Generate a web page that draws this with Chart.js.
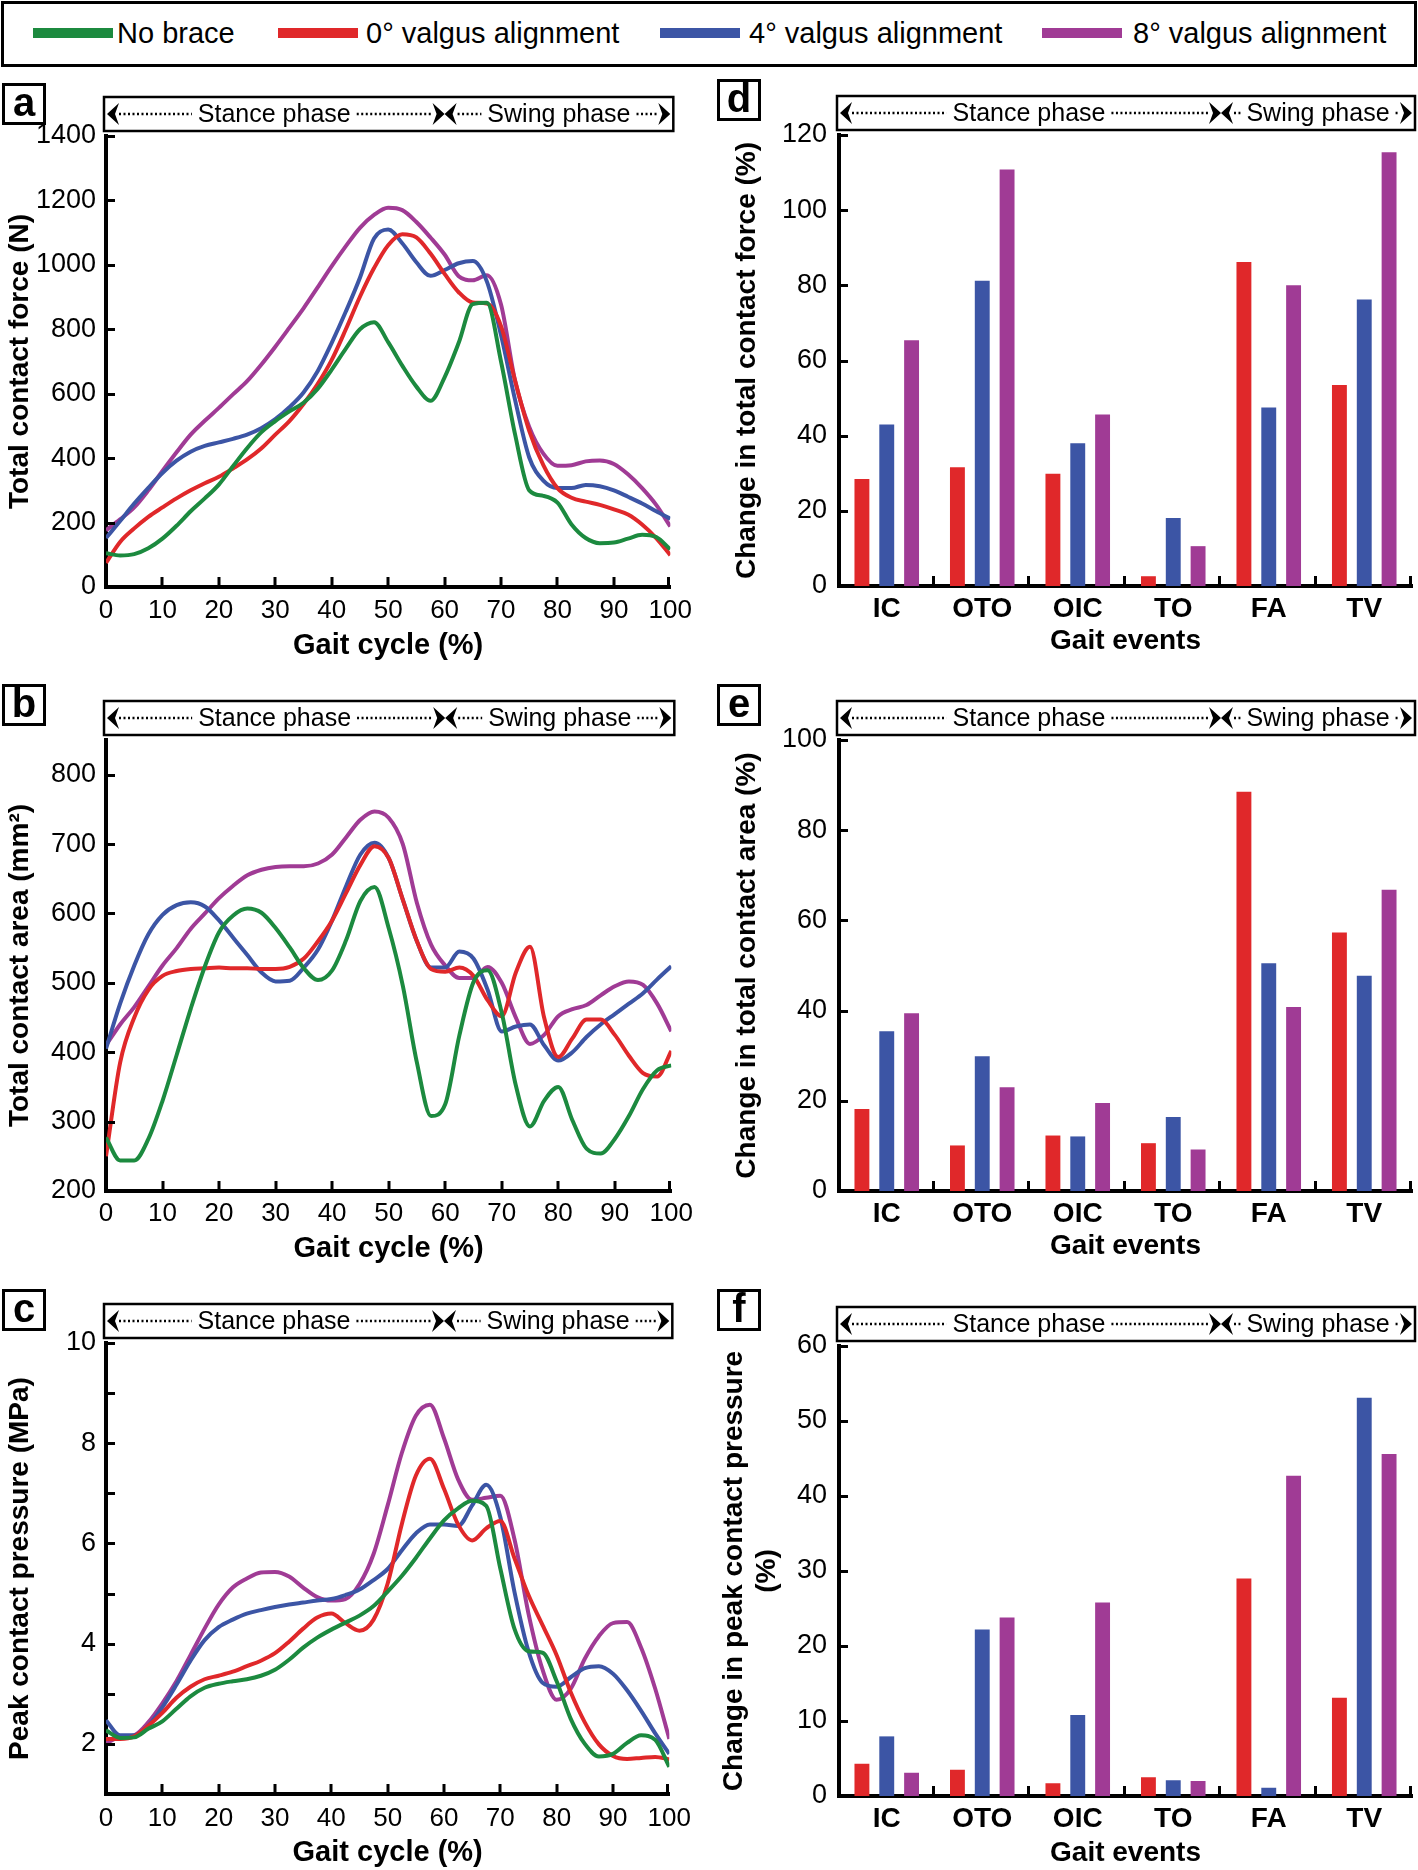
<!DOCTYPE html>
<html><head><meta charset="utf-8">
<script src="https://cdn.jsdelivr.net/npm/chart.js@4.4.1/dist/chart.umd.min.js"></script>
<style>
body{margin:0;background:#fff;}
#wrap{position:relative;width:1418px;height:1870px;overflow:hidden;font-family:"Liberation Sans",Arial,sans-serif;color:#000;}
canvas{position:absolute;}
.lbl{position:absolute;width:38px;height:36px;border:3px solid #000;font-weight:bold;font-size:40px;line-height:33px;text-align:center;z-index:2;background:#fff;}
#legend{position:absolute;left:1px;top:1px;width:1410px;height:60px;border:3px solid #000;}
.sw{position:absolute;top:24px;width:80px;height:10px;}
.lt{position:absolute;top:11px;font-size:29px;line-height:36px;white-space:nowrap;}
</style></head>
<body><div id="wrap">
<div id="legend">
 <div class="sw" style="left:29px;background:#1c8a3f"></div><div class="lt" style="left:113px">No brace</div>
 <div class="sw" style="left:274px;background:#e0282a"></div><div class="lt" style="left:362px">0° valgus alignment</div>
 <div class="sw" style="left:656px;background:#3c55a5"></div><div class="lt" style="left:745px">4° valgus alignment</div>
 <div class="sw" style="left:1038px;background:#a03b95"></div><div class="lt" style="left:1129px">8° valgus alignment</div>
</div>
<div class="lbl" style="left:2px;top:83px">a</div>
<div class="lbl" style="left:717px;top:79px">d</div>
<div class="lbl" style="left:2px;top:684px">b</div>
<div class="lbl" style="left:717px;top:684px">e</div>
<div class="lbl" style="left:2px;top:1289px">c</div>
<div class="lbl" style="left:717px;top:1289px">f</div>
<canvas id="ca" width="700" height="600" style="left:0;top:70px"></canvas>
<canvas id="cd" width="718" height="600" style="left:700px;top:70px"></canvas>
<canvas id="cb" width="700" height="600" style="left:0;top:675px"></canvas>
<canvas id="ce" width="718" height="600" style="left:700px;top:675px"></canvas>
<canvas id="cc" width="700" height="590" style="left:0;top:1280px"></canvas>
<canvas id="cf" width="718" height="590" style="left:700px;top:1280px"></canvas>
</div>
<script>
// ---------- data ----------
const gait = [0,2.5,5,7.5,10,12.5,15,17.5,20,22.5,25,27.5,30,32.5,35,37.5,40,42.5,45,47.5,50,52.5,55,57.5,60,62.5,65,67.5,70,72.5,75,77.5,80,82.5,85,87.5,90,92.5,95,97.5,100];
const seriesNames = ['No brace','0° valgus alignment','4° valgus alignment','8° valgus alignment'];
const seriesColors = ['#1c8a3f','#e0282a','#3c55a5','#a03b95'];
const events = ['IC','OTO','OIC','TO','FA','TV'];

// (a) total contact force (N)
const forceNoBrace = [105,98,102,120,150,190,235,275,318,375, 431,480,515,545,572,615,675,740,800,822, 760,687,622,578,651,758,878,882,700,473, 300,283,262,194,152,136,138,150,162,155, 117];
const force0 = [75,140,182,218,247,275,300,322,342,368, 396,430,473,515,568,630,705,800,901,990, 1061,1095,1085,1035,972,915,883,880,810,640, 485,378,307,277,265,255,241,225,194,152, 99];
const force4 = [152,205,259,308,354,392,420,438,449,460, 473,493,521,558,604,670,758,855,960,1082, 1110,1067,1008,966,984,1005,1012,948,782,580, 402,330,307,307,317,313,300,280,259,235, 212];
const force8 = [176,210,247,300,360,418,473,516,556,598, 639,690,746,805,865,930,996,1058,1115,1155, 1177,1170,1133,1085,1032,965,952,968,877,640, 497,414,376,378,390,393,382,350,307,255, 188];

// (b) total contact area (mm2)
const areaNoBrace = [277,244,244,275,330,396,463,524,573,597, 607,601,579,551,521,504,518,562,618,638, 579,496,385,308,325,424,501,518,457,352, 293,330,350,302,261,254,275,308,347,374, 381];
const area0 = [250,385,450,490,510,517,520,521,522,521, 521,520,520,523,535,560,590,630,670,697, 680,620,560,520,516,522,510,475,452,515, 552,450,393,420,447,447,425,395,370,365, 402];
const area4 = [405,470,525,570,598,612,616,610,590,565, 540,515,502,503,522,548,590,640,685,702, 680,620,560,522,522,545,535,490,430,437, 440,410,388,400,422,440,455,470,485,505, 524];
const area8 = [410,440,465,495,525,550,578,600,622,640, 655,663,667,668,668,672,685,710,735,747, 738,700,615,555,525,507,507,523,500,450, 412,425,452,462,468,482,495,502,497,470, 430];

// (c) peak contact pressure (MPa)
const pressNoBrace = [2.27,2.12,2.13,2.3,2.45,2.7,2.95,3.12,3.2,3.25, 3.29,3.36,3.48,3.68,3.92,4.12,4.28,4.42,4.56,4.75, 5.04,5.35,5.71,6.1,6.46,6.7,6.85,6.75,5.5,4.3, 3.85,3.82,3.25,2.5,2.0,1.75,1.8,2.02,2.17,2.08, 1.54];
const press0 = [2.1,2.1,2.15,2.36,2.62,2.92,3.14,3.29,3.36,3.44, 3.55,3.66,3.81,4.04,4.3,4.52,4.6,4.41,4.26,4.48, 5.2,6.38,7.35,7.69,7.09,6.38,6.06,6.3,6.45,5.71, 4.97,4.37,3.77,3.03,2.43,1.99,1.76,1.7,1.72,1.74, 1.69];
const press4 = [2.47,2.17,2.17,2.36,2.73,3.18,3.66,4.07,4.33,4.48, 4.6,4.67,4.73,4.78,4.82,4.86,4.89,4.97,5.08,5.27, 5.49,5.86,6.2,6.38,6.38,6.35,6.76,7.17,6.53,5.04, 3.85,3.22,3.14,3.33,3.51,3.55,3.4,3.07,2.66,2.21, 1.8];
const press8 = [2.02,2.13,2.17,2.43,2.81,3.25,3.77,4.3,4.78,5.12, 5.3,5.42,5.43,5.34,5.12,4.93,4.86,4.89,5.19,5.79, 6.76,7.8,8.55,8.77,8.1,7.28,6.87,6.91,6.95,6.09, 4.6,3.48,2.88,3.1,3.7,4.15,4.41,4.43,3.92,3.1, 2.1];

// (d) change in total contact force (%)
const dForce0 = [28.5,31.6,29.9,2.6,86.2,53.5];
const dForce4 = [43.0,81.2,38.0,18.1,47.5,76.2];
const dForce8 = [65.4,110.8,45.6,10.6,80.0,115.4];
// (e) change in total contact area (%)
const dArea0 = [18.2,10.1,12.3,10.6,88.5,57.3];
const dArea4 = [35.4,29.9,12.1,16.4,50.5,47.7];
const dArea8 = [39.4,23.0,19.5,9.2,40.8,66.8];
// (f) change in peak contact pressure (%)
const dPress0 = [4.3,3.5,1.7,2.5,29.0,13.1];
const dPress4 = [7.95,22.2,10.8,2.1,1.1,53.1];
const dPress8 = [3.1,23.8,25.8,2.0,42.7,45.6];

// ---------- rendering ----------
const FONT = '"Liberation Sans", Arial, sans-serif';
Chart.defaults.font.family = FONT;
Chart.defaults.color = '#000';

function arrow(ctx, tip, cy, dir) {
  const w = 12, h = 11, notch = 4;
  ctx.beginPath();
  ctx.moveTo(tip, cy);
  ctx.lineTo(tip - dir * w, cy - h);
  ctx.lineTo(tip - dir * (w - notch), cy);
  ctx.lineTo(tip - dir * w, cy + h);
  ctx.closePath();
  ctx.fill();
}

const deco = {
  id: 'deco',
  afterDraw(chart, args, o) {
    const ctx = chart.ctx, ca = chart.chartArea;
    const xs = chart.scales.x, ys = chart.scales.y;
    ctx.save();
    ctx.strokeStyle = '#000'; ctx.fillStyle = '#000'; ctx.lineWidth = 3;
    ctx.beginPath();
    ys.ticks.forEach(t => {
      if (t.value <= ys.min) return;
      const p = Math.round(ys.getPixelForValue(t.value)) + 0.5;
      ctx.moveTo(ca.left, p); ctx.lineTo(ca.left + 9, p);
    });
    if (xs.type === 'category') {
      const n = chart.data.labels.length, w = (xs.right - xs.left) / n;
      for (let k = 1; k <= n; k++) { const p = Math.round(xs.left + k * w) - 1.5; ctx.moveTo(p, ca.bottom); ctx.lineTo(p, ca.bottom - 10); }
    } else {
      xs.ticks.forEach(t => {
        if (t.value <= xs.min) return;
        const p = Math.round(xs.getPixelForValue(t.value)) - (t.value >= xs.max ? 1.5 : 0);
        ctx.moveTo(p, ca.bottom); ctx.lineTo(p, ca.bottom - 10);
      });
    }
    ctx.stroke();
    // phase header
    const x0 = ca.left - 2, x1 = ca.right + 3, y0 = ca.top - 39, y1 = ca.top - 5, cy = (y0 + y1) / 2;
    const xd = ca.left + o.split * (ca.right - ca.left);
    ctx.lineWidth = 2.5;
    ctx.strokeRect(x0, y0, x1 - x0, y1 - y0);
    arrow(ctx, x0 + 3, cy, -1); arrow(ctx, xd, cy, 1); arrow(ctx, xd, cy, -1); arrow(ctx, x1 - 3, cy, 1);
    ctx.font = '25px ' + FONT; ctx.textAlign = 'center'; ctx.textBaseline = 'middle';
    const seg = (a, b, c, text) => {
      const w = ctx.measureText(text).width;
      ctx.fillText(text, c, cy + 1);
      ctx.beginPath(); ctx.setLineDash([2, 2.5]);
      ctx.moveTo(a, cy); ctx.lineTo(c - w / 2 - 6, cy);
      ctx.moveTo(c + w / 2 + 6, cy); ctx.lineTo(b, cy);
      ctx.stroke(); ctx.setLineDash([]);
    };
    seg(x0 + 15, xd - 13, (x0 + xd) / 2, 'Stance phase');
    seg(xd + 13, x1 - 15, (xd + x1) / 2, 'Swing phase');
    ctx.restore();
  }
};

const border = { display: true, color: '#000', width: 4 };

function lineChart(id, series, o) {
  new Chart(document.getElementById(id), {
    type: 'line',
    data: {
      datasets: series.map((vals, i) => ({
        label: seriesNames[i],
        data: gait.map((g, k) => ({ x: g, y: vals[k] })),
        borderColor: seriesColors[i], borderWidth: 4, pointRadius: 0,
        cubicInterpolationMode: 'monotone', fill: false
      }))
    },
    options: {
      responsive: false, animation: false, devicePixelRatio: 1,
      layout: { padding: { top: o.padTop, right: 24, left: 0, bottom: 0 } },
      plugins: { legend: { display: false }, tooltip: { enabled: false }, deco: { split: 0.6 } },
      scales: {
        x: {
          type: 'linear', min: 0, max: 100,
          ticks: { stepSize: 10, padding: o.xTickPad, font: { size: 26 }, color: '#000', maxRotation: 0, autoSkip: false },
          grid: { display: false, drawTicks: false }, border,
          title: { display: true, text: 'Gait cycle (%)', color: '#000', font: { size: 29, weight: 'bold' }, padding: { top: 0, bottom: o.xTitlePad } },
          afterFit: s => { s.height = o.xH; }
        },
        y: {
          min: o.min, max: o.max,
          afterBuildTicks: s => { s.ticks = s.ticks.filter(t => Math.abs(t.value / o.step - Math.round(t.value / o.step)) < 1e-6); },
          ticks: { stepSize: o.step, padding: 10, font: { size: 27 }, color: '#000', autoSkip: false,
                   callback: v => (o.labelEvery && Math.round(v) % o.labelEvery !== 0) ? '' : String(v) },
          grid: { display: false, drawTicks: false }, border,
          title: { display: true, text: o.title, color: '#000', font: { size: 28, weight: 'bold' }, padding: { top: 3, bottom: 0 } },
          afterFit: s => { s.width = 106; }
        }
      }
    },
    plugins: [deco]
  });
}

function barChart(id, series, o) {
  new Chart(document.getElementById(id), {
    type: 'bar',
    data: {
      labels: events,
      datasets: series.map((vals, i) => ({
        label: seriesNames[i + 1], data: vals, backgroundColor: seriesColors[i + 1],
        borderWidth: 0, categoryPercentage: 0.78, barPercentage: 0.6
      }))
    },
    options: {
      responsive: false, animation: false, devicePixelRatio: 1,
      layout: { padding: { top: o.padTop, right: 6, left: 0, bottom: 0 } },
      plugins: { legend: { display: false }, tooltip: { enabled: false }, deco: { split: 4 / 6 } },
      scales: {
        x: {
          ticks: { padding: o.xTickPad, font: { size: 28, weight: 'bold' }, color: '#000', maxRotation: 0 },
          grid: { display: false, drawTicks: false }, border,
          title: { display: true, text: 'Gait events', color: '#000', font: { size: 28, weight: 'bold' }, padding: { top: 0, bottom: o.xTitlePad } },
          afterFit: s => { s.height = o.xH; }
        },
        y: {
          min: 0, max: o.max,
          ticks: { stepSize: o.step, padding: 12, font: { size: 27 }, color: '#000', autoSkip: false },
          grid: { display: false, drawTicks: false }, border,
          title: { display: true, text: o.title, color: '#000', font: { size: 28, weight: 'bold' }, padding: { top: o.yTitlePad, bottom: 0 } },
          afterFit: s => { s.width = 139; }
        }
      }
    },
    plugins: [deco]
  });
}

lineChart('ca', [forceNoBrace, force0, force4, force8], { padTop: 66, xH: 83, xTickPad: 8, xTitlePad: 7, min: 0, max: 1400, step: 200, title: 'Total contact force (N)' });
lineChart('cb', [areaNoBrace, area0, area4, area8], { padTop: 65, xH: 84, xTickPad: 7, xTitlePad: 9, min: 200, max: 850, step: 100, title: 'Total contact area (mm²)' });
lineChart('cc', [pressNoBrace, press0, press4, press8], { padTop: 63, xH: 76, xTickPad: 9, xTitlePad: 0, min: 1, max: 10, step: 1, labelEvery: 2, title: 'Peak contact pressure (MPa)' });

barChart('cd', [dForce0, dForce4, dForce8], { padTop: 65, xH: 84, xTickPad: 6, xTitlePad: 12, max: 120, step: 20, yTitlePad: 30, title: 'Change in total contact force (%)' });
barChart('ce', [dArea0, dArea4, dArea8], { padTop: 65, xH: 84, xTickPad: 6, xTitlePad: 12, max: 100, step: 20, yTitlePad: 30, title: 'Change in total contact area (%)' });
barChart('cf', [dPress0, dPress4, dPress8], { padTop: 66, xH: 74, xTickPad: 6, xTitlePad: 0, max: 60, step: 10, yTitlePad: 17, title: ['Change in peak contact pressure', '(%)'] });
</script>
</body></html>
